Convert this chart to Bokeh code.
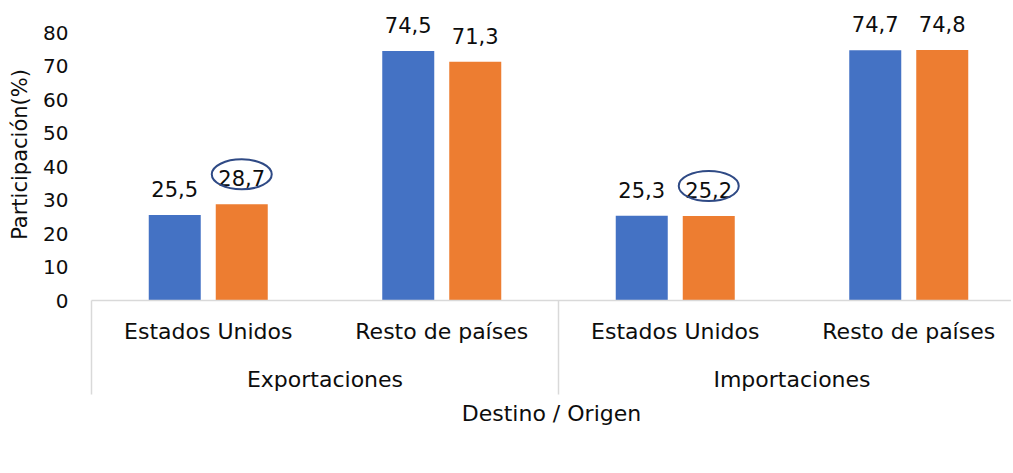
from bokeh.plotting import figure
from bokeh.models import (Range1d, FixedTicker, LinearAxis, Legend, LegendItem,
                          ColumnDataSource)
from bokeh.core.properties import value
from bokeh.embed import file_html
from bokeh.resources import INLINE

# ---- data ----
groups = ["Exportaciones", "Importaciones"]
subcats = ["Estados Unidos", "Resto de países", "Estados Unidos", "Resto de países"]
v2018 = [25.5, 74.5, 25.3, 74.7]
v2019 = [28.7, 71.3, 25.2, 74.8]
highlight2019 = [True, False, True, False]
series = ["2018", "2019"]
yticks = [0, 10, 20, 30, 40, 50, 60, 70, 80]

FONT = "DejaVu Sans"
TXT = "#0d0d0d"
BLUE = "#4472C4"
ORANGE = "#ED7D31"
GRID = "#d9d9d9"

LEFT = 91
FRAME_W, FRAME_H = 920, 292
CAT_PX = 233.5
Y_END = 80 + 24 / 3.35
x_end = FRAME_W / CAT_PX
px_per_y = FRAME_H / Y_END

centers = [i + 0.5 for i in range(len(subcats))]
off = 33.5 / CAT_PX
bw = 52 / CAT_PX

def fmt(v):
    return f"{v:.1f}".replace(".", ",")

src18 = ColumnDataSource(dict(x=[c - off for c in centers], top=v2018,
                              lab=[fmt(v) for v in v2018]))
src19 = ColumnDataSource(dict(x=[c + off for c in centers], top=v2019,
                              lab=[fmt(v) for v in v2019]))

p = figure(frame_width=FRAME_W, frame_height=FRAME_H,
           x_range=Range1d(0, x_end), y_range=Range1d(0, Y_END),
           output_backend="svg", toolbar_location=None,
           min_border_left=LEFT, min_border_right=0, min_border_top=8,
           min_border_bottom=0)
p.outline_line_color = None
p.xgrid.visible = False
p.ygrid.visible = False

r18 = p.vbar(x="x", top="top", width=bw, source=src18, fill_color=BLUE, line_color=None)
r19 = p.vbar(x="x", top="top", width=bw, source=src19, fill_color=ORANGE, line_color=None)

for s in (src18, src19):
    p.text(x="x", y="top", text="lab", source=s, text_align="center",
           text_baseline="alphabetic", y_offset=-26,
           text_font=value(FONT), text_font_size="21px", text_color=TXT)

ex = [c + off for c, h in zip(centers, highlight2019) if h]
ey = [v + 30 / px_per_y for v, h in zip(v2019, highlight2019) if h]
p.ellipse(x=ex, y=ey, width=60, height=30, width_units="screen", height_units="screen",
          fill_color=None, line_color="#2F4A85", line_width=2)

# y axis
ya = p.yaxis[0]
ya.ticker = FixedTicker(ticks=yticks)
ya.axis_line_color = None
ya.major_tick_line_color = None
ya.minor_tick_line_color = None
ya.major_tick_out = 0
ya.major_tick_in = 0
ya.major_label_standoff = 23
ya.major_label_text_font = FONT
ya.major_label_text_font_size = "20px"
ya.major_label_text_color = TXT
ya.axis_label = "Participación(%)"
ya.axis_label_text_font = FONT
ya.axis_label_text_font_size = "21px"
ya.axis_label_text_font_style = "normal"
ya.axis_label_text_color = TXT
ya.axis_label_standoff = 8

# x axis A: sub categories
xa = p.xaxis[0]
xa.ticker = FixedTicker(ticks=centers, minor_ticks=[])
xa.major_label_overrides = {c: s for c, s in zip(centers, subcats)}
xa.axis_line_color = GRID
xa.axis_line_width = 1.5
xa.major_tick_line_color = None
xa.minor_tick_line_color = None
xa.major_tick_out = 0
xa.major_tick_in = 0
xa.major_label_standoff = 18
xa.major_label_text_font = FONT
xa.major_label_text_font_size = "22px"
xa.major_label_text_color = TXT

# x axis B: groups
gcent = [1, 3]
xb = LinearAxis(ticker=FixedTicker(ticks=gcent, minor_ticks=[]))
xb.major_label_overrides = {c: g for c, g in zip(gcent, groups)}
xb.axis_line_color = None
xb.major_tick_line_color = None
xb.minor_tick_line_color = None
xb.major_tick_out = 0
xb.major_tick_in = 0
xb.major_label_standoff = 20
xb.major_label_text_font = FONT
xb.major_label_text_font_size = "22px"
xb.major_label_text_color = TXT
p.add_layout(xb, "below")

# x axis C: group separators (ticks pointing up) + axis title
seps = [0, 2, 4]
xc = LinearAxis(ticker=FixedTicker(ticks=seps, minor_ticks=[]))
xc.major_label_overrides = {s: "" for s in seps}
xc.axis_line_color = None
xc.major_tick_line_color = GRID
xc.major_tick_line_width = 1.5
xc.minor_tick_line_color = None
xc.major_tick_out = 0
xc.major_tick_in = 94
xc.major_label_standoff = 0
xc.major_label_text_font_size = "1px"
xc.axis_label = "Destino / Origen"
xc.axis_label_text_font = FONT
xc.axis_label_text_font_size = "22px"
xc.axis_label_text_font_style = "normal"
xc.axis_label_text_color = TXT
xc.axis_label_standoff = 6
p.add_layout(xc, "below")

# spacer axis D (room for the legend); its single tick is white on white
xd = LinearAxis(ticker=FixedTicker(ticks=[0.5], minor_ticks=[]))
xd.major_label_overrides = {0.5: ""}
xd.axis_line_color = None
xd.major_tick_line_color = "#ffffff"
xd.major_tick_line_width = 1
xd.minor_tick_line_color = None
xd.major_tick_out = 46
xd.major_tick_in = 0
xd.major_label_standoff = 0
xd.major_label_text_font_size = "1px"
p.add_layout(xd, "below")

legend = Legend(items=[LegendItem(label=series[0], renderers=[r18]),
                       LegendItem(label=series[1], renderers=[r19])],
                orientation="horizontal", location=(377, -172),
                border_line_color=None, background_fill_alpha=0,
                label_text_font=FONT, label_text_font_size="20px",
                label_text_color=TXT, glyph_width=12, glyph_height=12,
                label_height=20, label_standoff=6, spacing=14, padding=0, margin=0)
p.add_layout(legend, "center")

open("out.html", "w").write(file_html(p, INLINE))
